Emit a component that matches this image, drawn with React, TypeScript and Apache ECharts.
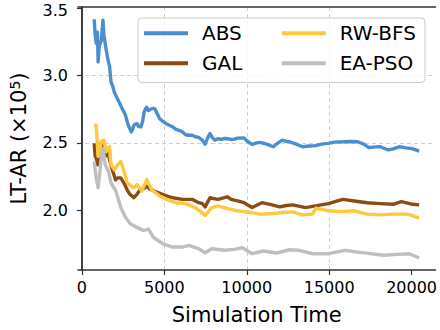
import React, { useEffect, useRef } from 'react';
import * as echarts from 'echarts';

const FONT = 'DejaVu Sans';
const xTicks = [0, 5000, 10000, 15000, 20000];
const yTicks = [2.0, 2.5, 3.0, 3.5];
const seriesNames = ['ABS', 'GAL', 'RW-BFS', 'EA-PSO'];
const legendCol1 = ['ABS', 'GAL'];
const legendCol2 = ['RW-BFS', 'EA-PSO'];
const seriesColors = ['#4a8ed0', '#8b4c14', '#ffc83d', '#bfbfbf'];

const absData = [
  [744, 3.416], [800, 3.30], [860, 3.24], [939, 3.32], [980, 3.10], [1050, 3.22], [1175, 3.26],
  [1275, 3.41], [1330, 3.30], [1470, 3.19], [1570, 3.12], [1671, 3.07], [1765, 2.95], [1866, 2.92],
  [1966, 2.874], [2060, 2.85], [2160, 2.825], [2260, 2.80], [2355, 2.776], [2450, 2.75], [2556, 2.728],
  [2650, 2.70], [2751, 2.654], [2850, 2.62], [2987, 2.581], [3070, 2.60], [3146, 2.63], [3250, 2.64],
  [3341, 2.642], [3450, 2.62], [3577, 2.618], [3680, 2.66], [3772, 2.728], [3850, 2.75], [3931, 2.764],
  [4032, 2.74], [4227, 2.752], [4327, 2.755], [4421, 2.752], [4550, 2.72], [4716, 2.679], [4900, 2.66],
  [5112, 2.642], [5300, 2.63], [5507, 2.618], [5700, 2.60], [5897, 2.593], [6098, 2.58], [6293, 2.56],
  [6487, 2.556], [6688, 2.556], [6883, 2.545], [7078, 2.54], [7300, 2.52], [7473, 2.49], [7600, 2.53],
  [7768, 2.569], [7900, 2.54], [8064, 2.52], [8258, 2.53], [8450, 2.525], [8654, 2.532], [8850, 2.53],
  [9050, 2.525], [9244, 2.527], [9450, 2.535], [9834, 2.537], [10050, 2.51], [10324, 2.488], [10600, 2.50],
  [10820, 2.503], [11200, 2.49], [11605, 2.471], [11900, 2.50], [12154, 2.52], [12400, 2.51], [12591, 2.508],
  [13000, 2.49], [13376, 2.471], [13800, 2.476], [14161, 2.479], [14550, 2.49], [14952, 2.496], [15300, 2.505],
  [15932, 2.508], [16300, 2.51], [16723, 2.508], [17100, 2.49], [17408, 2.464], [17800, 2.47], [18098, 2.471],
  [18588, 2.447], [18884, 2.455], [19279, 2.471], [19675, 2.462], [19970, 2.459], [20200, 2.45], [20460, 2.439],
];

const galData = [
  [744, 2.496], [800, 2.40], [860, 2.39], [939, 2.337], [1050, 2.40], [1175, 2.508], [1275, 2.45],
  [1411, 2.40], [1570, 2.43], [1765, 2.33], [2042, 2.225], [2160, 2.24], [2355, 2.24], [2556, 2.20],
  [2751, 2.15], [2900, 2.12], [3146, 2.093], [3350, 2.12], [3536, 2.154], [3750, 2.16], [3931, 2.178],
  [4100, 2.16], [4421, 2.14], [4917, 2.117], [5300, 2.10], [5507, 2.093], [6098, 2.081], [6688, 2.081],
  [7078, 2.056], [7300, 2.05], [7473, 2.025], [7768, 2.093], [8064, 2.085], [8258, 2.081], [8813, 2.10],
  [9050, 2.08], [9439, 2.069], [9834, 2.056], [10324, 2.02], [10915, 2.056], [11410, 2.044], [12001, 2.025],
  [12400, 2.035], [12786, 2.04], [13571, 2.02], [14161, 2.032], [14952, 2.049], [15500, 2.07], [15839, 2.081],
  [16523, 2.069], [17313, 2.056], [18098, 2.049], [18884, 2.044], [19379, 2.064], [20064, 2.044], [20460, 2.04],
];

const rwbfsData = [
  [744, 2.63], [860, 2.63], [939, 2.483], [980, 2.40], [1175, 2.508], [1334, 2.52], [1470, 2.435],
  [1671, 2.471], [1765, 2.337], [1966, 2.30], [2160, 2.337], [2355, 2.362], [2556, 2.288], [2751, 2.203],
  [3146, 2.166], [3341, 2.19], [3636, 2.142], [3931, 2.227], [4227, 2.154], [4716, 2.105], [5112, 2.081],
  [5702, 2.056], [6293, 2.049], [6883, 2.02], [7473, 1.962], [7869, 2.02], [8258, 2.032], [8848, 2.012],
  [9439, 1.996], [10230, 1.983], [10820, 1.971], [11605, 1.976], [12196, 1.983], [12786, 1.988], [13376, 1.966],
  [13967, 1.971], [14203, 2.015], [14952, 1.996], [15738, 1.99], [16523, 1.996], [17313, 1.971], [18098, 1.966],
  [18884, 1.971], [19675, 1.971], [20064, 1.96], [20460, 1.941],
];

const eapsoData = [
  [744, 2.362], [860, 2.24], [980, 2.166], [1100, 2.30], [1175, 2.398], [1275, 2.459], [1411, 2.337],
  [1611, 2.288], [1765, 2.203], [2060, 2.142], [2355, 2.02], [2650, 1.947], [2946, 1.898], [3341, 1.873],
  [3737, 1.849], [4032, 1.861], [4327, 1.80], [4917, 1.751], [5507, 1.727], [6098, 1.727], [6487, 1.739],
  [7078, 1.715], [7473, 1.685], [7869, 1.715], [8654, 1.703], [9244, 1.71], [9734, 1.722], [10324, 1.678],
  [11015, 1.698], [11800, 1.683], [12591, 1.707], [13181, 1.703], [13967, 1.678], [14952, 1.678], [15932, 1.703],
  [16723, 1.69], [17508, 1.678], [18293, 1.666], [19084, 1.673], [19870, 1.678], [20460, 1.646],
];

const seriesData = [absData, galData, rwbfsData, eapsoData];

const X_MIN = -240;
const X_MAX = 21450;
const Y_MIN = 1.557;
const Y_MAX = 3.507;

export default function App() {
  const ref = useRef<HTMLDivElement>(null);

  useEffect(() => {
    if (!ref.current) return;
    const chart = echarts.init(ref.current, null, { renderer: 'svg' });
    const spine = { show: true, lineStyle: { color: '#333333', width: 1.5 } };
    const dashed = { show: true, lineStyle: { color: '#cfcfcf', width: 1, type: [4, 3] as any }, showMinLine: false, showMaxLine: false };
    const legendBase = {
      orient: 'vertical',
      icon: 'rect',
      itemWidth: 44,
      itemHeight: 4,
      itemGap: 10,
      padding: 0,
      textStyle: { fontFamily: FONT, fontSize: 20, color: '#000000', padding: [0, 0, 0, 9], lineHeight: 20 },
    };
    chart.setOption({
      animation: false,
      backgroundColor: '#ffffff',
      textStyle: { fontFamily: FONT },
      grid: { left: 69.5, right: 4.5, top: 7, bottom: 57.3, containLabel: false },
      graphic: [
        {
          type: 'rect',
          left: 137.5,
          top: 17.5,
          z: 3,
          shape: { width: 287, height: 64.5, r: 4 },
          style: { fill: 'rgba(255,255,255,0.8)', stroke: '#cccccc', lineWidth: 1 },
        },
      ],
      legend: [
        { ...legendBase, data: legendCol1, left: 144, top: 23.3 },
        { ...legendBase, data: legendCol2, left: 281.7, top: 23.3 },
      ],
      xAxis: [
        {
          type: 'value',
          min: X_MIN,
          max: X_MAX,
          minInterval: 5000,
          maxInterval: 5000,
          name: 'Simulation Time',
          nameLocation: 'middle',
          nameGap: 34,
          nameTextStyle: { fontFamily: FONT, fontSize: 21, color: '#000000' },
          axisLine: spine,
          axisTick: { show: true, length: 5, customValues: xTicks, lineStyle: { color: '#333333', width: 1.2 } },
          axisLabel: { customValues: xTicks, fontFamily: FONT, fontSize: 16, color: '#000000', margin: 9, formatter: (v: number) => String(v) },
          splitLine: dashed,
        },
        {
          type: 'value',
          position: 'top',
          min: X_MIN,
          max: X_MAX,
          axisLine: spine,
          axisTick: { show: false },
          axisLabel: { show: false },
          splitLine: { show: false },
        },
      ],
      yAxis: [
        {
          type: 'value',
          min: Y_MIN,
          max: Y_MAX,
          minInterval: 0.5,
          maxInterval: 0.5,
          name: '{a|LT-AR (×10}{s|5}{a|)}',
          nameLocation: 'middle',
          nameGap: 48,
          nameTextStyle: {
            rich: {
              a: { fontFamily: FONT, fontSize: 21, color: '#000000' },
              s: { fontFamily: FONT, fontSize: 14, color: '#000000', verticalAlign: 'top', padding: [0, 0, 8, 0] },
            },
          },
          axisLine: spine,
          axisTick: { show: true, length: 5, customValues: yTicks, lineStyle: { color: '#333333', width: 1.2 } },
          axisLabel: {
            customValues: yTicks,
            fontFamily: FONT,
            fontSize: 16,
            color: '#000000',
            margin: 10,
            formatter: (v: number) => (v >= 3.49 ? '{t|' + v.toFixed(1) + '}' : v.toFixed(1)),
            rich: { t: { fontFamily: FONT, fontSize: 16, color: '#000000', padding: [5, 0, 0, 0] } },
          },
          splitLine: dashed,
        },
        {
          type: 'value',
          position: 'right',
          min: Y_MIN,
          max: Y_MAX,
          axisLine: spine,
          axisTick: { show: false },
          axisLabel: { show: false },
          splitLine: { show: false },
        },
      ],
      series: seriesNames.map((name, i) => ({
        name,
        type: 'line',
        data: seriesData[i],
        showSymbol: false,
        symbol: 'none',
        color: seriesColors[i],
        lineStyle: { color: seriesColors[i], width: 3.4, join: 'round' },
        z: 2,
      })),
    });
    return () => chart.dispose();
  }, []);

  return <div ref={ref} style={{ position: 'fixed', left: 0, top: 0, width: 440, height: 330 }} />;
}
